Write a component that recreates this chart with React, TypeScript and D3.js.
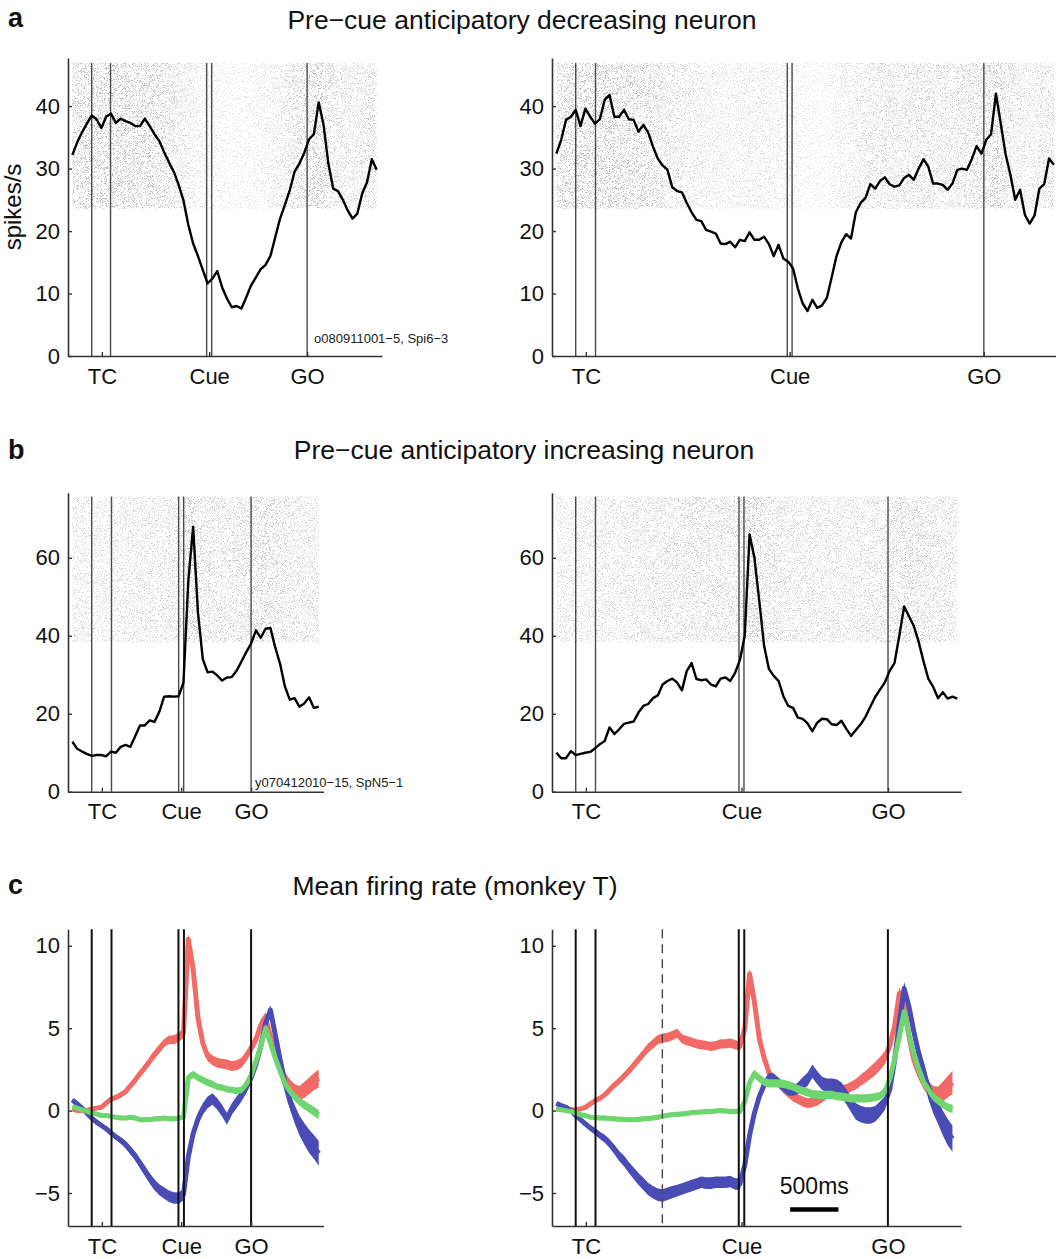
import React, { useEffect, useRef } from 'react';
import * as d3 from 'd3';

const WIDTH = 1056;
const HEIGHT = 1259;
const PX_PER_MS = 0.0966;
const STEP_MS = 50;
const FIRST_MS = -200;
const FONT = '"Liberation Sans", Arial, Helvetica, sans-serif';

// event markers in ms from the first TC line: TC on, TC hold, Cue on, Cue off, GO
const EVENTS_A_LEFT = [0, 195, 1190, 1242, 2230];
const EVENTS_A_RIGHT = [0, 205, 2190, 2240, 4225];
const EVENTS_B_LEFT = [0, 205, 900, 952, 1650];
const EVENTS_B_RIGHT = [0, 205, 1690, 1742, 3233];
const EVENTS_C_LEFT = [0, 205, 898, 955, 1650];
const EVENTS_C_RIGHT = [0, 205, 1688, 1745, 3232];
const C_RIGHT_DASHED = 897;
const TC_TICK = 105;
const EVENT_LABELS = ['TC', 'Cue', 'GO'];
const SCALE_BAR = [2220, 2720];
const SCALE_LABEL = '500ms';

const Y_TICKS_A = [0, 10, 20, 30, 40];
const Y_TICKS_B = [0, 20, 40, 60];
const Y_TICKS_C = [-5, 0, 5, 10];

// firing rates (spikes/s), one sample every 50 ms starting at -200 ms
const A_LEFT_RATE = [
  32.2, 34.2, 35.8, 37.2, 38.5, 37.9, 36.5, 38.3, 38.8, 37.3,
  38.0, 37.6, 37.3, 36.8, 36.8, 38.0, 36.8, 35.5, 34.4, 32.6,
  31.0, 29.5, 27.4, 24.9, 21.0, 18.0, 16.0, 13.8, 11.6, 12.4,
  13.6, 11.0, 9.2, 7.8, 8.0, 7.6, 9.4, 11.3, 12.6, 13.9,
  14.6, 16.0, 19.0, 22.0, 24.2, 26.5, 29.5, 30.8, 32.5, 34.7,
  35.5, 40.6, 37.0, 30.8, 26.8, 26.4, 25.0, 23.3, 22.0, 22.8,
  26.0, 27.8, 31.5, 29.8,
];
const A_RIGHT_RATE = [
  32.4, 34.6, 37.8, 38.3, 39.4, 36.8, 39.6, 38.3, 37.2, 37.9,
  41.0, 41.8, 38.3, 38.3, 39.4, 37.9, 37.8, 35.9, 37.0, 35.8,
  33.5, 31.6, 30.5, 29.8, 27.0, 26.4, 26.2, 24.5, 23.0, 21.8,
  21.6, 20.2, 19.9, 19.6, 18.0, 17.9, 18.3, 17.4, 18.6, 18.4,
  19.8, 18.6, 18.6, 19.1, 17.9, 16.0, 17.8, 15.6, 15.1, 14.0,
  10.8, 8.4, 7.2, 9.0, 7.7, 8.1, 9.3, 12.6, 16.0, 18.2,
  19.5, 18.8, 23.0, 24.5, 25.3, 27.5, 26.8, 28.0, 28.6, 27.5,
  27.1, 27.3, 28.5, 29.0, 28.2, 30.0, 31.5, 30.3, 27.6, 27.6,
  27.4, 26.6, 27.6, 29.8, 30.0, 29.8, 31.5, 33.6, 32.4, 34.6,
  35.5, 42.0, 37.2, 32.3, 29.0, 25.0, 26.6, 22.6, 21.2, 22.5,
  26.8, 27.5, 31.6, 30.6,
];
const B_LEFT_RATE = [
  12.8, 11.0, 10.3, 9.7, 9.2, 9.4, 9.4, 9.1, 10.3, 10.0,
  11.5, 12.0, 11.5, 14.2, 17.0, 17.0, 18.3, 17.9, 20.5, 24.4,
  24.5, 24.4, 24.5, 28.0, 54.0, 68.0, 46.0, 34.0, 30.6, 30.8,
  29.8, 28.5, 29.3, 29.4, 31.0, 33.4, 35.8, 38.0, 41.4, 39.5,
  41.8, 42.0, 37.0, 32.8, 27.0, 23.6, 24.0, 21.8, 22.6, 24.2,
  21.5, 21.8,
];
const B_RIGHT_RATE = [
  10.0, 8.6, 8.6, 10.4, 9.4, 9.7, 10.0, 10.2, 11.1, 12.2,
  13.0, 16.5, 14.8, 16.0, 17.4, 17.7, 18.0, 20.3, 22.0, 22.5,
  24.0, 24.7, 27.5, 28.4, 29.0, 28.0, 26.0, 31.0, 33.0, 28.9,
  28.6, 28.8, 27.5, 27.0, 29.0, 29.3, 28.4, 30.5, 33.8, 40.0,
  66.0, 60.0, 49.0, 37.5, 31.5, 29.7, 28.4, 24.5, 22.0, 21.5,
  19.0, 18.7, 17.5, 15.5, 17.7, 18.7, 18.6, 17.3, 17.1, 18.2,
  16.2, 14.3, 15.8, 17.3, 19.2, 21.8, 24.3, 26.2, 28.0, 31.0,
  33.0, 40.0, 47.5, 45.0, 42.5, 38.5, 33.5, 29.0, 26.9, 24.0,
  25.5, 23.9, 24.4, 23.9,
];

// normalised mean rates (panel c), same sampling, with half-widths of the shaded band
const C_LEFT_RED = [
  0.1, 0.0, 0.0, 0.0, 0.1, 0.15, 0.2, 0.45, 0.7, 0.8,
  0.95, 1.15, 1.5, 1.85, 2.25, 2.6, 3.0, 3.4, 3.75, 4.1,
  4.3, 4.3, 4.45, 4.7, 10.4, 8.6, 5.6, 4.1, 3.3, 3.05,
  2.9, 2.85, 2.8, 2.7, 2.75, 2.9, 3.3, 3.8, 4.3, 5.2,
  5.6, 4.5, 3.3, 2.6, 1.95, 1.5, 1.2, 1.05, 1.25, 1.5,
  1.75, 1.95,
];
const C_LEFT_GREEN = [
  0.25, 0.15, 0.05, -0.05, -0.15, -0.2, -0.3, -0.3, -0.35, -0.4,
  -0.45, -0.45, -0.4, -0.45, -0.55, -0.55, -0.55, -0.5, -0.5, -0.45,
  -0.5, -0.5, -0.45, -0.4, 2.0, 2.2, 2.0, 1.85, 1.7, 1.6,
  1.45, 1.4, 1.3, 1.25, 1.2, 1.25, 1.6, 2.15, 3.0, 3.9,
  5.0, 4.1, 3.2, 2.4, 1.65, 1.2, 0.85, 0.55, 0.35, 0.15,
  -0.05, -0.25,
];
const C_LEFT_BLUE = [
  0.65, 0.4, 0.15, -0.15, -0.45, -0.7, -0.9, -1.1, -1.35, -1.6,
  -1.8, -2.05, -2.4, -2.75, -3.2, -3.65, -4.1, -4.5, -4.8, -5.0,
  -5.2, -5.3, -5.3, -5.1, -2.8, -1.4, -0.5, 0.1, 0.5, 0.7,
  0.4, 0.0, -0.5, 0.1, 0.5, 0.9, 1.4, 2.0, 2.8, 3.9,
  5.3, 6.1, 4.6, 3.1, 1.7, 0.6, -0.2, -0.9, -1.4, -1.85,
  -2.2, -2.6,
];
const C_LEFT_RED_SEM = [
  0.08, 0.08, 0.08, 0.08, 0.1, 0.1, 0.1, 0.12, 0.14, 0.15,
  0.16, 0.17, 0.18, 0.2, 0.2, 0.22, 0.22, 0.24, 0.25, 0.25,
  0.26, 0.27, 0.28, 0.3, 0.35, 0.35, 0.32, 0.3, 0.3, 0.3,
  0.3, 0.3, 0.3, 0.3, 0.3, 0.3, 0.3, 0.32, 0.34, 0.35,
  0.35, 0.35, 0.35, 0.36, 0.38, 0.4, 0.42, 0.45, 0.48, 0.5,
  0.52, 0.55,
];
const C_LEFT_GREEN_SEM = [
  0.06, 0.06, 0.06, 0.07, 0.08, 0.09, 0.1, 0.1, 0.11, 0.12,
  0.12, 0.12, 0.12, 0.13, 0.13, 0.13, 0.13, 0.14, 0.14, 0.14,
  0.14, 0.14, 0.14, 0.15, 0.22, 0.22, 0.22, 0.22, 0.22, 0.22,
  0.2, 0.2, 0.2, 0.2, 0.2, 0.2, 0.22, 0.24, 0.25, 0.26,
  0.28, 0.28, 0.26, 0.25, 0.25, 0.25, 0.25, 0.25, 0.26, 0.27,
  0.28, 0.28,
];
const C_LEFT_BLUE_SEM = [
  0.08, 0.08, 0.09, 0.1, 0.11, 0.12, 0.13, 0.14, 0.16, 0.18,
  0.2, 0.22, 0.24, 0.26, 0.28, 0.3, 0.32, 0.33, 0.34, 0.35,
  0.35, 0.35, 0.35, 0.35, 0.25, 0.3, 0.35, 0.35, 0.35, 0.35,
  0.35, 0.35, 0.35, 0.35, 0.35, 0.35, 0.35, 0.33, 0.3, 0.3,
  0.3, 0.3, 0.32, 0.36, 0.42, 0.48, 0.55, 0.6, 0.65, 0.7,
  0.72, 0.75,
];

const C_RIGHT_RED = [
  0.1, 0.08, 0.05, 0.05, 0.05, 0.1, 0.2, 0.4, 0.6, 0.75,
  0.95, 1.25, 1.55, 1.8, 2.1, 2.4, 2.75, 3.1, 3.45, 3.8,
  4.05, 4.3, 4.4, 4.45, 4.55, 4.7, 4.35, 4.25, 4.15, 4.05,
  4.0, 3.95, 3.9, 3.95, 4.05, 4.05, 4.1, 4.0, 3.9, 5.0,
  8.3, 6.6, 4.4, 3.2, 2.3, 1.9, 1.7, 1.35, 1.1, 0.85,
  0.7, 0.55, 0.45, 0.5, 0.6, 0.8, 1.0, 1.15, 1.25, 1.25,
  1.3, 1.45, 1.6, 1.85, 2.05, 2.3, 2.55, 2.85, 3.2, 3.9,
  5.1, 7.1, 6.3, 4.5, 3.1, 2.3, 1.75, 1.35, 1.0, 0.9,
  1.15, 1.45, 1.7,
];
const C_RIGHT_GREEN = [
  0.1, 0.05, 0.0, -0.05, -0.15, -0.25, -0.3, -0.4, -0.42, -0.45,
  -0.45, -0.48, -0.5, -0.52, -0.53, -0.55, -0.55, -0.53, -0.5, -0.48,
  -0.45, -0.4, -0.35, -0.28, -0.25, -0.22, -0.2, -0.18, -0.12, -0.1,
  -0.08, -0.06, -0.05, -0.02, 0.0, -0.02, -0.05, -0.05, -0.05, 0.55,
  1.7, 2.25, 1.95, 1.75, 1.65, 1.65, 1.65, 1.62, 1.55, 1.45,
  1.3, 1.2, 1.1, 1.0, 0.97, 0.95, 0.95, 0.95, 0.88, 0.85,
  0.8, 0.75, 0.75, 0.75, 0.75, 0.78, 0.82, 0.9, 1.15, 1.9,
  3.1, 4.5, 6.0, 4.6, 3.45, 2.55, 1.75, 1.3, 0.85, 0.6,
  0.4, 0.2, 0.1,
];
const C_RIGHT_BLUE = [
  0.45, 0.3, 0.2, 0.0, -0.3, -0.55, -0.8, -1.05, -1.25, -1.5,
  -1.7, -2.0, -2.35, -2.75, -3.05, -3.45, -3.8, -4.15, -4.45, -4.75,
  -4.95, -5.1, -5.15, -5.05, -4.95, -4.85, -4.75, -4.65, -4.55, -4.45,
  -4.35, -4.4, -4.4, -4.35, -4.35, -4.35, -4.3, -4.45, -4.45, -3.3,
  -1.5, -0.15, 0.85, 1.55, 2.0, 1.95, 1.7, 1.45, 1.2, 1.2,
  1.35, 1.65, 1.9, 2.4, 2.0, 1.65, 1.55, 1.55, 1.5, 1.3,
  0.85, 0.4, -0.05, -0.2, -0.3, -0.3, -0.2, 0.1, 0.45, 1.25,
  3.0, 5.3, 7.4, 6.3, 4.8, 3.5, 2.45, 1.3, 0.5, -0.1,
  -0.75, -1.3, -1.7,
];
const C_RIGHT_RED_SEM = [
  0.07, 0.07, 0.07, 0.07, 0.08, 0.09, 0.1, 0.12, 0.14, 0.15,
  0.16, 0.18, 0.2, 0.21, 0.22, 0.23, 0.24, 0.25, 0.26, 0.27,
  0.28, 0.28, 0.28, 0.28, 0.28, 0.28, 0.28, 0.28, 0.28, 0.28,
  0.28, 0.28, 0.28, 0.28, 0.28, 0.28, 0.28, 0.28, 0.28, 0.3,
  0.32, 0.32, 0.3, 0.3, 0.3, 0.3, 0.3, 0.3, 0.3, 0.3,
  0.3, 0.3, 0.3, 0.3, 0.3, 0.3, 0.3, 0.3, 0.3, 0.3,
  0.3, 0.3, 0.32, 0.34, 0.36, 0.38, 0.4, 0.4, 0.4, 0.4,
  0.4, 0.4, 0.4, 0.4, 0.4, 0.4, 0.42, 0.45, 0.5, 0.55,
  0.6, 0.65, 0.7,
];
const C_RIGHT_GREEN_SEM = [
  0.06, 0.06, 0.06, 0.07, 0.08, 0.09, 0.1, 0.11, 0.12, 0.13,
  0.14, 0.14, 0.14, 0.14, 0.14, 0.14, 0.14, 0.14, 0.14, 0.14,
  0.14, 0.14, 0.14, 0.14, 0.14, 0.14, 0.14, 0.14, 0.14, 0.14,
  0.14, 0.14, 0.14, 0.14, 0.14, 0.14, 0.14, 0.14, 0.14, 0.2,
  0.25, 0.25, 0.25, 0.25, 0.25, 0.25, 0.25, 0.25, 0.25, 0.25,
  0.25, 0.25, 0.25, 0.25, 0.25, 0.25, 0.25, 0.25, 0.25, 0.25,
  0.25, 0.25, 0.25, 0.25, 0.25, 0.25, 0.25, 0.25, 0.25, 0.25,
  0.25, 0.25, 0.25, 0.25, 0.25, 0.25, 0.25, 0.25, 0.25, 0.25,
  0.25, 0.25, 0.25,
];
const C_RIGHT_BLUE_SEM = [
  0.08, 0.08, 0.09, 0.1, 0.12, 0.14, 0.16, 0.18, 0.2, 0.22,
  0.24, 0.26, 0.28, 0.3, 0.32, 0.34, 0.35, 0.36, 0.37, 0.38,
  0.38, 0.38, 0.38, 0.38, 0.37, 0.36, 0.35, 0.35, 0.35, 0.35,
  0.35, 0.35, 0.35, 0.35, 0.35, 0.35, 0.35, 0.35, 0.35, 0.3,
  0.25, 0.25, 0.3, 0.3, 0.3, 0.3, 0.3, 0.3, 0.3, 0.3,
  0.35, 0.38, 0.4, 0.4, 0.4, 0.4, 0.4, 0.4, 0.4, 0.42,
  0.45, 0.48, 0.5, 0.5, 0.5, 0.5, 0.48, 0.45, 0.42, 0.4,
  0.4, 0.4, 0.4, 0.42, 0.45, 0.5, 0.55, 0.6, 0.65, 0.7,
  0.75, 0.8, 0.8,
];

const RED = '#f26a66';
const GREEN = '#6fd66f';
const BLUE = '#4a4cb6';

// layout
const COLS = {
  left: { axisX: 68, tc: 91.7 },
  right: { axisX: 552, tc: 575.7 },
};
const ROWS = {
  a: { base: 356, top: 58, domain: [0, 47.7], raster: [23.6, 46.9], shade: [0.18, 1.3], letterY: 27, titleY: 29, titleX: 522, title: 'Pre−cue anticipatory decreasing neuron' },
  b: { base: 791.7, top: 492.7, domain: [0, 76.7], raster: [38.3, 75.7], shade: [0.45, 1], letterY: 459, titleY: 459, titleX: 524, title: 'Pre−cue anticipatory increasing neuron' },
  c: { base: 1226, top: 929.3, domain: [-7, 11], raster: null, shade: null, letterY: 894, titleY: 895, titleX: 455, title: 'Mean firing rate (monkey T)' },
};

const PANELS = [
  { row: 'a', col: 'left', tEnd: 3005, yTicks: Y_TICKS_A, events: EVENTS_A_LEFT, rate: A_LEFT_RATE, id: 'o080911001−5, Spi6−3', idPos: [314, 343] },
  { row: 'a', col: 'right', tEnd: 4990, yTicks: Y_TICKS_A, events: EVENTS_A_RIGHT, rate: A_RIGHT_RATE },
  { row: 'b', col: 'left', tEnd: 2400, yTicks: Y_TICKS_B, events: EVENTS_B_LEFT, rate: B_LEFT_RATE, id: 'y070412010−15, SpN5−1', idPos: [255, 787] },
  { row: 'b', col: 'right', tEnd: 3990, yTicks: Y_TICKS_B, events: EVENTS_B_RIGHT, rate: B_RIGHT_RATE },
  {
    row: 'c', col: 'left', tEnd: 2400, yTicks: Y_TICKS_C, events: EVENTS_C_LEFT,
    bands: [
      { mean: C_LEFT_RED, sem: C_LEFT_RED_SEM, color: RED },
      { mean: C_LEFT_BLUE, sem: C_LEFT_BLUE_SEM, color: BLUE },
      { mean: C_LEFT_GREEN, sem: C_LEFT_GREEN_SEM, color: GREEN },
    ],
  },
  {
    row: 'c', col: 'right', tEnd: 3990, yTicks: Y_TICKS_C, events: EVENTS_C_RIGHT, dashed: C_RIGHT_DASHED, scaleBar: SCALE_BAR,
    bands: [
      { mean: C_RIGHT_RED, sem: C_RIGHT_RED_SEM, color: RED },
      { mean: C_RIGHT_BLUE, sem: C_RIGHT_BLUE_SEM, color: BLUE },
      { mean: C_RIGHT_GREEN, sem: C_RIGHT_GREEN_SEM, color: GREEN },
    ],
  },
];

const sampleTimes = (n: number) => d3.range(n).map((i) => FIRST_MS + i * STEP_MS);

function drawPanel(root: any, defs: any, p: any, idx: number) {
  const row = ROWS[p.row];
  const col = COLS[p.col];
  const tStart = (col.axisX - col.tc) / PX_PER_MS;
  const x = d3.scaleLinear()
    .domain([tStart, p.tEnd])
    .range([col.axisX, col.axisX + (p.tEnd - tStart) * PX_PER_MS]);
  const y = d3.scaleLinear().domain(row.domain).range([row.base, row.top]);
  const g = root.append('g');

  // spike raster: speckle texture, shaded by the local firing rate
  if (p.rate && row.raster) {
    const t = sampleTimes(p.rate.length);
    const maxR = d3.max(p.rate) as number;
    const [floor, gamma] = row.shade;
    const xa = x(t[0]);
    const xb = x(t[t.length - 1]);
    const ya = y(row.raster[1]);
    const yb = y(row.raster[0]);
    const gradId = `raster-grad-${idx}`;
    const grad = defs.append('linearGradient')
      .attr('id', gradId)
      .attr('gradientUnits', 'userSpaceOnUse')
      .attr('x1', xa).attr('x2', xb).attr('y1', 0).attr('y2', 0);
    grad.selectAll('stop').data(p.rate).join('stop')
      .attr('offset', (_d: number, i: number) => i / (t.length - 1))
      .attr('stop-color', '#fff')
      .attr('stop-opacity', (d: number) => floor + (1 - floor) * Math.pow(d / maxR, gamma));
    const maskId = `raster-mask-${idx}`;
    defs.append('mask')
      .attr('id', maskId)
      .attr('maskUnits', 'userSpaceOnUse')
      .attr('x', 0).attr('y', 0).attr('width', WIDTH).attr('height', HEIGHT)
      .append('rect')
      .attr('x', xa).attr('y', ya).attr('width', xb - xa).attr('height', yb - ya)
      .attr('fill', `url(#${gradId})`);
    g.append('g').attr('mask', `url(#${maskId})`)
      .append('rect')
      .attr('x', xa).attr('y', ya).attr('width', xb - xa).attr('height', yb - ya)
      .attr('fill', '#000')
      .attr('filter', 'url(#speckle)');
  }

  // shaded mean +/- sem bands
  if (p.bands) {
    p.bands.forEach((b: any) => {
      const t = sampleTimes(b.mean.length);
      const area = d3.area<number>()
        .x((_d, i) => x(t[i]))
        .y0((d, i) => y(d - b.sem[i]))
        .y1((d, i) => y(d + b.sem[i]));
      const line = d3.line<number>().x((_d, i) => x(t[i])).y((d) => y(d));
      g.append('path').attr('d', area(b.mean)).attr('fill', b.color);
      g.append('path').attr('d', line(b.mean))
        .attr('fill', 'none').attr('stroke', b.color)
        .attr('stroke-width', 5).attr('stroke-linejoin', 'round');
    });
  }

  // event lines
  const lineTop = row.raster ? y(row.raster[1]) : row.top;
  const isC = p.row === 'c';
  g.selectAll('line.event').data(p.events).join('line')
    .attr('class', 'event')
    .attr('x1', (d: number) => x(d)).attr('x2', (d: number) => x(d))
    .attr('y1', lineTop).attr('y2', row.base)
    .attr('stroke', isC ? '#111' : '#4a4a4a')
    .attr('stroke-width', isC ? 2 : 1.4);

  if (p.dashed != null) {
    g.append('line')
      .attr('x1', x(p.dashed)).attr('x2', x(p.dashed))
      .attr('y1', row.top).attr('y2', row.base)
      .attr('stroke', '#444').attr('stroke-width', 1.4)
      .attr('stroke-dasharray', '9,6');
  }

  // single-neuron trace
  if (p.rate) {
    const t = sampleTimes(p.rate.length);
    const line = d3.line<number>().x((_d, i) => x(t[i])).y((d) => y(d));
    g.append('path').attr('d', line(p.rate))
      .attr('fill', 'none').attr('stroke', '#000')
      .attr('stroke-width', 2.4).attr('stroke-linejoin', 'round');
  }

  // axes
  const yAxis = d3.axisLeft(y).tickValues(p.yTicks).tickSizeInner(-4).tickSizeOuter(0).tickPadding(8);
  const ya = g.append('g').attr('transform', `translate(${col.axisX},0)`).call(yAxis);
  const ev = p.events;
  const xTicks = [TC_TICK, (ev[2] + ev[3]) / 2, ev[4]];
  const xAxis = d3.axisBottom(x).tickValues(xTicks)
    .tickFormat((_d: any, i: number) => EVENT_LABELS[i])
    .tickSizeInner(-4).tickSizeOuter(0).tickPadding(12);
  const xa = g.append('g').attr('transform', `translate(0,${row.base})`).call(xAxis);
  [ya, xa].forEach((a) => {
    a.attr('font-family', FONT).attr('font-size', 22);
    a.select('.domain').attr('stroke', '#333').attr('stroke-width', 1.6);
    a.selectAll('.tick line').attr('stroke', '#333').attr('stroke-width', 1.4);
    a.selectAll('.tick text').attr('fill', '#111');
  });

  if (p.id) {
    g.append('text').attr('x', p.idPos[0]).attr('y', p.idPos[1])
      .attr('font-family', FONT).attr('font-size', 13).attr('fill', '#222')
      .text(p.id);
  }

  if (p.scaleBar) {
    const [s0, s1] = p.scaleBar;
    g.append('line')
      .attr('x1', x(s0)).attr('x2', x(s1))
      .attr('y1', 1209.5).attr('y2', 1209.5)
      .attr('stroke', '#000').attr('stroke-width', 4.5);
    g.append('text')
      .attr('x', x((s0 + s1) / 2)).attr('y', 1194)
      .attr('text-anchor', 'middle')
      .attr('font-family', FONT).attr('font-size', 23).attr('fill', '#111')
      .text(SCALE_LABEL);
  }
}

export default function App() {
  const ref = useRef<SVGSVGElement>(null);

  useEffect(() => {
    const svg = d3.select(ref.current);
    svg.selectAll('*').remove();
    const defs = svg.append('defs');
    const filter = defs.append('filter')
      .attr('id', 'speckle')
      .attr('x', 0).attr('y', 0).attr('width', 1).attr('height', 1);
    filter.append('feTurbulence')
      .attr('type', 'fractalNoise')
      .attr('baseFrequency', '0.75 1.4')
      .attr('numOctaves', 2)
      .attr('seed', 7);
    filter.append('feColorMatrix')
      .attr('type', 'matrix')
      .attr('values', '0 0 0 0 0.5  0 0 0 0 0.5  0 0 0 0 0.5  -12 0 0 0 5.45');

    svg.append('rect').attr('width', WIDTH).attr('height', HEIGHT).attr('fill', '#fff');

    PANELS.forEach((p, i) => drawPanel(svg, defs, p, i));

    // titles, panel letters, axis label
    Object.entries(ROWS).forEach(([key, r]: [string, any]) => {
      svg.append('text').attr('x', 8).attr('y', r.letterY)
        .attr('font-family', FONT).attr('font-weight', 'bold').attr('font-size', 27)
        .attr('fill', '#111').text(key);
      svg.append('text').attr('x', r.titleX).attr('y', r.titleY)
        .attr('text-anchor', 'middle')
        .attr('font-family', FONT).attr('font-size', 26.5).attr('fill', '#111')
        .text(r.title);
    });
    svg.append('text')
      .attr('transform', 'translate(21,207) rotate(-90)')
      .attr('text-anchor', 'middle')
      .attr('font-family', FONT).attr('font-size', 24).attr('fill', '#111')
      .text('spikes/s');
  }, []);

  return (
    <svg
      ref={ref}
      width={WIDTH}
      height={HEIGHT}
      style={{ position: 'absolute', left: 0, top: 0, background: '#fff' }}
    />
  );
}
